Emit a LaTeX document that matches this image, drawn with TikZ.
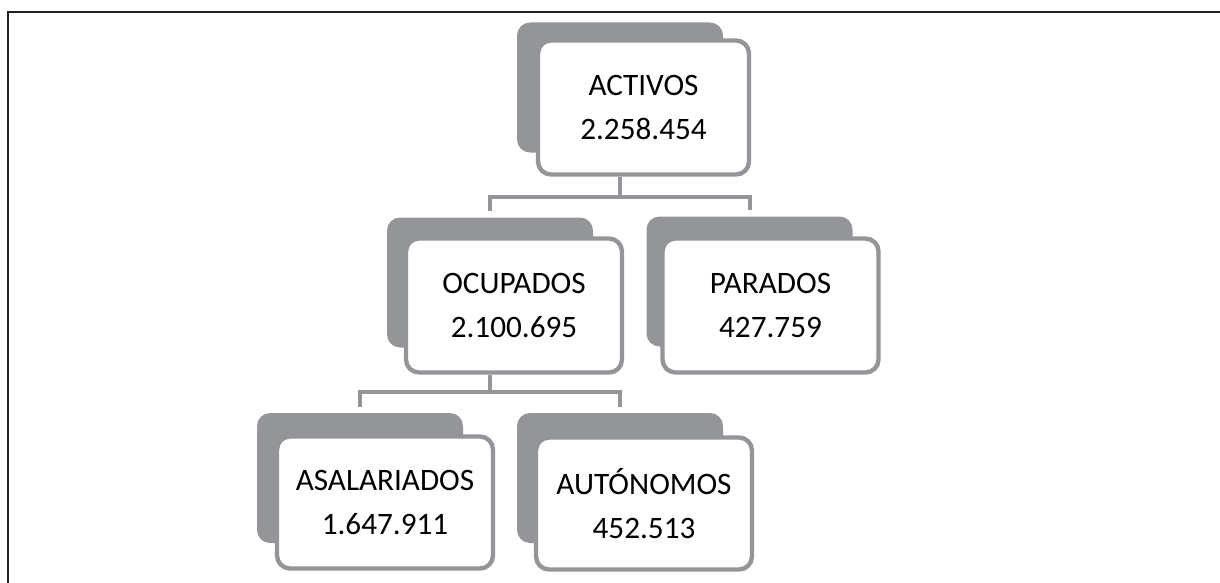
\documentclass[tikz,border=0pt]{standalone}
\usepackage{fontspec}
\setmainfont{Carlito}
\usetikzlibrary{backgrounds}
\definecolor{boxgray}{HTML}{939598}
\definecolor{framec}{HTML}{231F20}
\begin{document}
\begin{tikzpicture}[x=0.5pt,y=-0.5pt,
  backbox/.style={fill=boxgray, rounded corners=6.5pt, minimum width=103pt, minimum height=65pt, inner sep=0pt},
  frontbox/.style={draw=boxgray, fill=white, line width=2.2pt, rounded corners=6.5pt, minimum width=105.5pt, minimum height=67pt, inner sep=0pt, align=center, font=\fontsize{15.6}{22}\selectfont},
  conn/.style={draw=boxgray, line width=2pt},
  frameline/.style={draw=framec, line width=1.1pt}]
\useasboundingbox (0,0) rectangle (1220,583);
\coordinate (fbl) at (8,590);
\coordinate (ftl) at (8,12);
\coordinate (ftr) at (1230,12);
\draw[frameline] (fbl) -- (ftl) -- (ftr);

\node[backbox] (actB) at (620,87.5) {};
\node[frontbox] (act) at (643.5,107.5) {ACTIVOS\\2.258.454};

\node[backbox] (ocuB) at (490,282.5) {};
\node[frontbox, minimum width=108pt] (ocu) at (514,305.5) {OCUPADOS\\2.100.695};

\node[backbox] (parB) at (749.5,281.5) {};
\node[frontbox, minimum width=108pt] (par) at (770.5,305.5) {PARADOS\\427.759};

\node[backbox] (asaB) at (360,478) {};
\node[frontbox, minimum width=108pt, minimum height=66pt] (asa) at (385,502.5) {ASALARIADOS\\1.647.911};

\node[backbox] (autB) at (620,478) {};
\node[frontbox, minimum width=108pt, minimum height=66pt] (aut) at (644,503.5) {AUTÓNOMOS\\452.513};

\begin{pgfonlayer}{background}
\draw[conn] (act.south -| actB) -- ++(0,20) -| ([yshift=3pt]ocuB.north);
\draw[conn] (act.south -| actB) -- ++(0,20) -| ([yshift=3pt]parB.north);
\draw[conn] (ocu.south -| ocuB) -- ++(0,17) -| ([yshift=3pt]asaB.north);
\draw[conn] (ocu.south -| ocuB) -- ++(0,17) -| ([yshift=3pt]autB.north);
\end{pgfonlayer}
\end{tikzpicture}
\end{document}
